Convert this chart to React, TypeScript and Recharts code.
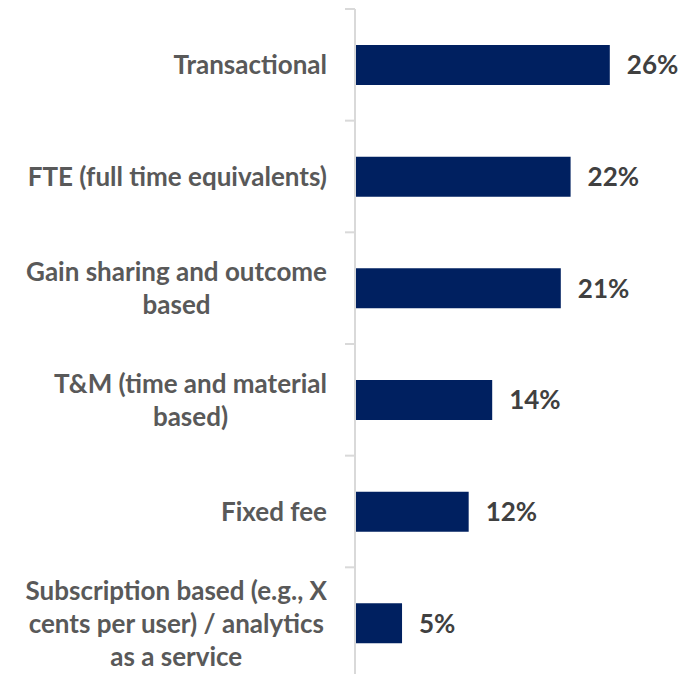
import React from 'react';
import { BarChart, Bar, XAxis, YAxis, LabelList } from 'recharts';

const categories = [
  'Transactional',
  'FTE (full time equivalents)',
  'Gain sharing and outcome\nbased',
  'T&M (time and material\nbased)',
  'Fixed fee',
  'Subscription based (e.g., X\ncents per user) / analytics\nas a service',
];
const shares = [26, 22, 21, 14, 11.6, 4.8];

const data = categories.map((name, i) => ({ name, value: shares[i] }));

const W = 690;
const H = 679;
const TOP = 9;
const AXIS_W = 355;
const BAND = (H - TOP) / categories.length;
const FONT = 'Lato, "Open Sans", sans-serif';

const CategoryTick = (props: any) => {
  const { y, payload } = props;
  const top = y - BAND / 2;
  return (
    <g>
      <line x1={345} x2={355} y1={top} y2={top} stroke="#d9d9d9" strokeWidth={2} />
      <foreignObject x={0} y={top} width={327} height={BAND}>
        <div
          style={{
            display: 'flex',
            alignItems: 'center',
            justifyContent: 'flex-end',
            height: '100%',
          }}
        >
          <div
            style={{
              textAlign: 'center',
              whiteSpace: 'pre-line',
              fontFamily: FONT,
              fontWeight: 700,
              fontSize: 26,
              lineHeight: '33px',
              color: '#595959',
            }}
          >
            {payload.value}
          </div>
        </div>
      </foreignObject>
    </g>
  );
};

export default function App() {
  return (
    <div
      style={{
        position: 'fixed',
        left: 0,
        top: 0,
        width: W,
        height: 674,
        overflow: 'hidden',
        background: '#fff',
      }}
    >
      <BarChart
        width={W}
        height={H}
        data={data}
        layout="vertical"
        margin={{ top: TOP, right: 41, bottom: 0, left: 0 }}
      >
        <XAxis type="number" domain={[0, 30]} hide />
        <YAxis
          type="category"
          dataKey="name"
          width={AXIS_W}
          axisLine={{ stroke: '#d9d9d9', strokeWidth: 2 }}
          tickLine={false}
          tick={<CategoryTick />}
          interval={0}
        />
        <Bar dataKey="value" fill="#002060" barSize={40} isAnimationActive={false}>
          <LabelList
            dataKey="value"
            position="right"
            offset={17}
            formatter={(v: any) => `${Math.round(Number(v))}%`}
            fill="#404040"
            style={{ fontFamily: FONT, fontWeight: 700, fontSize: 26 }}
          />
        </Bar>
      </BarChart>
    </div>
  );
}
